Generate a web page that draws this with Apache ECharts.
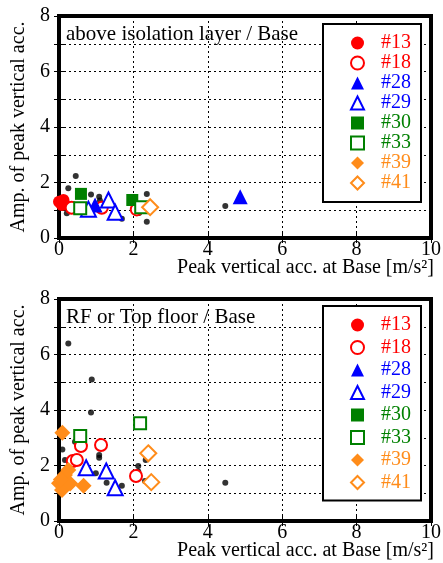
<!DOCTYPE html>
<html><head><meta charset="utf-8">
<script src="https://cdn.jsdelivr.net/npm/echarts@6/dist/echarts.min.js"></script>
<style>html,body{margin:0;padding:0;background:#fff}#c{width:443px;height:563px}</style>
</head><body><div id="c"></div>
<script>
// ---- data ----
var seriesNames = ['#13','#18','#28','#29','#30','#33','#39','#41'];
var xTicks = [0,2,4,6,8,10];
var yTicks = [0,2,4,6,8];
var panelTitles = ['above isolation layer / Base', 'RF or Top floor / Base'];
var xName = 'Peak vertical acc. at Base [m/s\u00b2]';
var yName = 'Amp. of peak vertical acc.';

// top panel: above isolation layer / Base
var dotsTop = [[0.45,2.23],[0.25,1.79],[0.86,1.57],[1.08,1.49],[2.36,1.59],[4.47,1.15],[2.36,0.59],[1.69,0.69],[0.21,0.89],[1.1,1.35],[2.15,0.9]];
var s13Top = [[0.0,1.31],[0.12,1.37],[0.08,1.19],[0.05,1.25],[0.15,1.22]];
var s18Top = [[0.34,1.09],[1.15,1.09],[2.09,1.03]];
var s28Top = [[0.97,1.19],[4.87,1.49]];
var s29Top = [[1.33,1.37],[1.51,0.93],[0.79,1.04]];
var s30Top = [[0.59,1.59],[1.97,1.37]];
var s33Top = [[0.57,1.07],[2.21,1.11]];
var s39Top = [];
var s41Top = [[2.45,1.11]];

// bottom panel: RF or Top floor / Base
var dotsBot = [[0.25,6.40],[0.88,5.10],[0.86,3.91],[0.09,2.58],[0.43,2.86],[0.16,2.20],[1.08,2.38],[1.08,2.28],[0.99,1.72],[1.28,1.38],[1.69,1.27],[2.13,1.98],[2.33,2.20],[2.31,1.44],[4.47,1.38],[2.13,1.78]];
var s13Bot = [[0.1,1.4]];
var s18Bot = [[0.59,2.70],[1.13,2.74],[0.37,2.16],[0.48,2.20],[2.07,1.62]];
var s28Bot = [];
var s29Bot = [[0.73,1.92],[1.27,1.80],[1.51,1.20]];
var s30Bot = [];
var s33Bot = [[0.57,3.06],[2.18,3.52]];
var s39Bot = [[0.09,3.18],[0.0,1.36],[0.16,1.66],[0.08,1.12],[0.25,1.84],[0.66,1.27],[0.3,1.35],[0.05,1.5]];
var s41Bot = [[2.40,2.44],[2.48,1.40]];

// ---- styling ----
var FONT = "'Liberation Serif','Times New Roman',serif";
var FS = 20;
var RED='#ff0000', BLUE='#0000ff', GREEN='#008000', ORANGE='#ff8c1a';
var styles = {
  '#13': {symbol:'circle', size:12, color:RED, open:false},
  '#18': {symbol:'circle', size:12, color:RED, open:true},
  '#28': {symbol:'triangle', size:15, color:BLUE, open:false},
  '#29': {symbol:'triangle', size:15, color:BLUE, open:true},
  '#30': {symbol:'rect', size:12, color:GREEN, open:false},
  '#33': {symbol:'rect', size:12, color:GREEN, open:true},
  '#39': {symbol:'diamond', size:16, color:ORANGE, open:false},
  '#41': {symbol:'diamond', size:16, color:ORANGE, open:true}
};
var topData = {'#13':s13Top,'#18':s18Top,'#28':s28Top,'#29':s29Top,'#30':s30Top,'#33':s33Top,'#39':s39Top,'#41':s41Top};
var botData = {'#13':s13Bot,'#18':s18Bot,'#28':s28Bot,'#29':s29Bot,'#30':s30Bot,'#33':s33Bot,'#39':s39Bot,'#41':s41Bot};

var grids = [
  {left:59, right:12, top:16, height:222, show:true, borderColor:'#000', borderWidth:4, backgroundColor:'transparent', containLabel:false, outerBoundsMode:'none'},
  {left:59, right:12, top:299, height:222, show:true, borderColor:'#000', borderWidth:4, backgroundColor:'transparent', containLabel:false, outerBoundsMode:'none'}
];
var xAxes = [], yAxes = [];
[0,1].forEach(function(g){
  xAxes.push({type:'value', gridIndex:g, min:xTicks[0], max:xTicks[xTicks.length-1], interval:2, position:'bottom',
    name:xName, nameLocation:'end', nameGap:3, nameMoveOverlap:false,
    nameTextStyle:{fontFamily:FONT, fontSize:FS, color:'#000', align:'right', verticalAlign:'top', padding:[20,0,0,0]},
    axisLine:{show:false}, axisTick:{show:true, inside:true, length:5, lineStyle:{color:'#000', width:1}},
    axisLabel:{fontFamily:FONT, fontSize:FS, color:'#000', margin:2},
    splitLine:{show:true, lineStyle:{color:'#000', width:1, type:[2,3]}}});
  xAxes.push({type:'value', gridIndex:g, min:xTicks[0], max:xTicks[xTicks.length-1], interval:2, position:'top',
    axisLine:{show:false}, axisTick:{show:true, inside:true, length:5, lineStyle:{color:'#000', width:1}},
    axisLabel:{show:false}, splitLine:{show:false}});
  yAxes.push({type:'value', gridIndex:g, min:yTicks[0], max:yTicks[yTicks.length-1], interval:1, position:'left',
    name:yName, nameLocation:'middle', nameGap:28,
    nameTextStyle:{fontFamily:FONT, fontSize:FS, color:'#000'},
    axisLine:{show:false}, axisTick:{show:true, inside:true, length:5, lineStyle:{color:'#000', width:1}},
    axisLabel:{fontFamily:FONT, fontSize:FS, color:'#000', margin:9, formatter:function(v){return yTicks.indexOf(v)>=0 ? String(v) : '';}},
    splitLine:{show:true, lineStyle:{color:'#000', width:1, type:[2,3]}}});
  yAxes.push({type:'value', gridIndex:g, min:yTicks[0], max:yTicks[yTicks.length-1], interval:1, position:'right',
    axisLine:{show:false}, axisTick:{show:true, inside:true, length:5, lineStyle:{color:'#000', width:1}},
    axisLabel:{show:false}, splitLine:{show:false}});
});

var series = [];
function addPanel(g, dots, dataMap){
  series.push({type:'scatter', name:'data', xAxisIndex:2*g, yAxisIndex:2*g, data:dots, symbol:'circle', symbolSize:6,
    itemStyle:{color:'#000'}, z:2, silent:true});
  seriesNames.forEach(function(n, i){
    var s = styles[n];
    series.push({type:'scatter', name:n, xAxisIndex:2*g, yAxisIndex:2*g, data:dataMap[n],
      symbol:s.symbol, symbolSize:s.size, z:3+i,
      itemStyle: s.open ? {color:'#fff', borderColor:s.color, borderWidth:2, opacity:1} : {color:s.color, borderWidth:0, opacity:1}});
  });
}
addPanel(0, dotsTop, topData);
addPanel(1, dotsBot, botData);

var legendData = seriesNames.map(function(n){ return {name:n, textStyle:{color:styles[n].color}}; });
function makeLegend(top, gap, pad){
  return {show:true, orient:'vertical', left:323, top:top, data:legendData, itemWidth:13, itemHeight:13, itemGap:gap,
    padding:pad, borderColor:'#000', borderWidth:2, backgroundColor:'#fff', selectedMode:false,
    textStyle:{fontFamily:FONT, fontSize:FS, padding:[0,0,0,12]}};
}

var chart = echarts.init(document.getElementById('c'), null, {renderer:'canvas'});
chart.setOption({
  backgroundColor:'#fff',
  animation:false,
  title:[
    {text:panelTitles[0], left:66, top:24, padding:0, textStyle:{fontFamily:FONT, fontSize:21, fontWeight:'normal', color:'#000'}},
    {text:panelTitles[1], left:66, top:307, padding:0, textStyle:{fontFamily:FONT, fontSize:21, fontWeight:'normal', color:'#000'}}
  ],
  legend:[ makeLegend(24, 0, [9,10,9,27]), makeLegend(306, 2.5, [9,10,8,27]) ],
  grid:grids,
  xAxis:xAxes,
  yAxis:yAxes,
  series:series
});
</script></body></html>
